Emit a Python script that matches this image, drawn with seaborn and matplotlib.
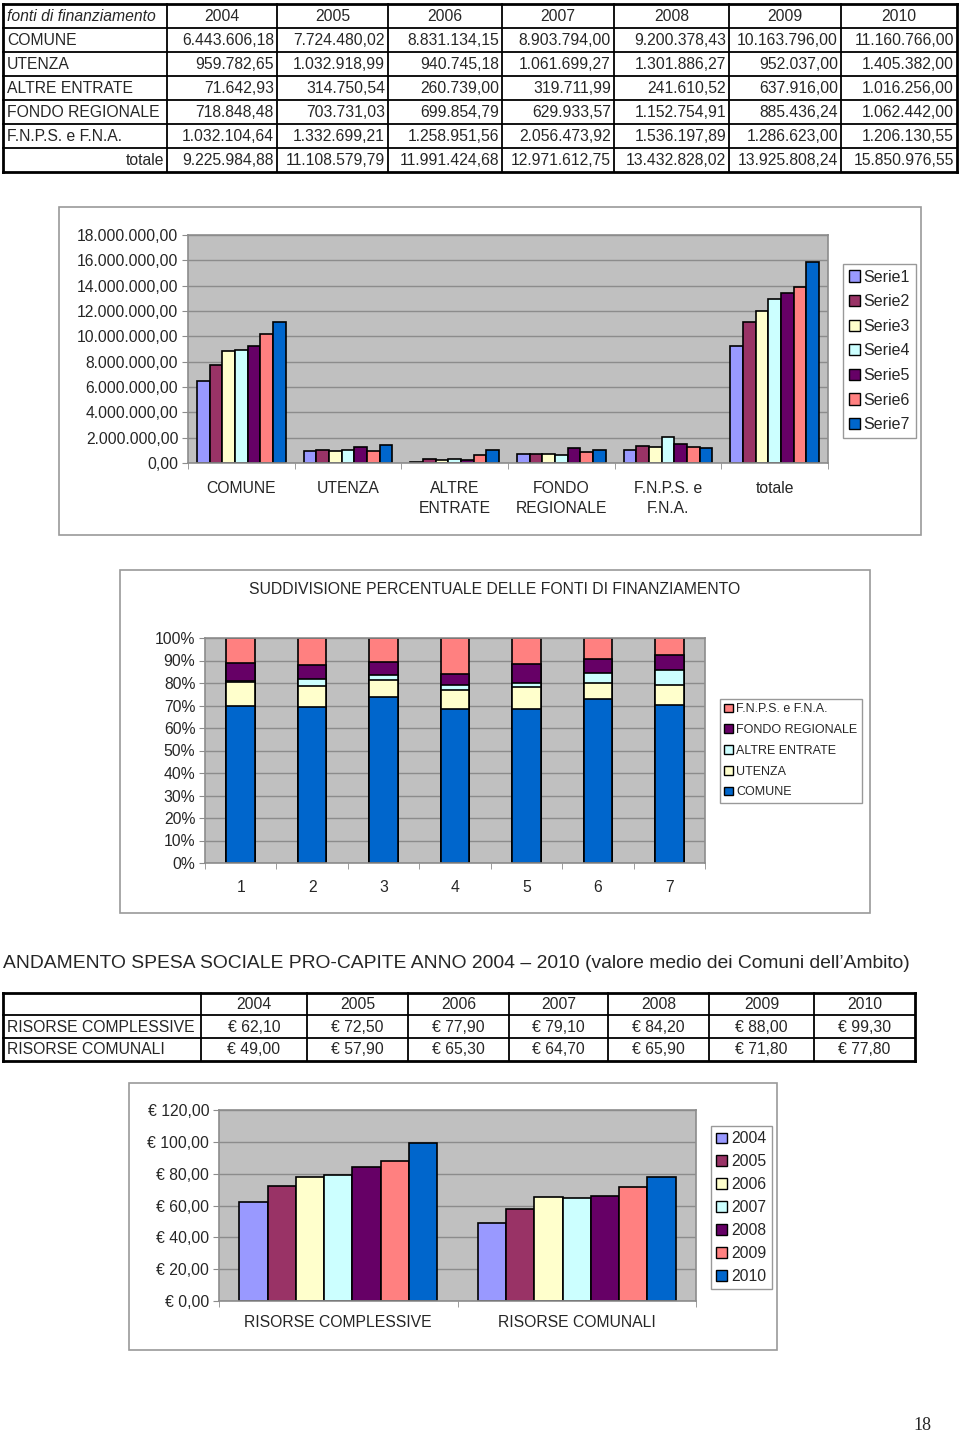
import numpy as np
import pandas as pd
import matplotlib
matplotlib.use("Agg")
import matplotlib.pyplot as plt
import seaborn as sns
from matplotlib.patches import Patch, Rectangle
from matplotlib.ticker import FuncFormatter

# ---- data ----
years = ["2004", "2005", "2006", "2007", "2008", "2009", "2010"]
sources = ["COMUNE", "UTENZA", "ALTRE ENTRATE", "FONDO REGIONALE", "F.N.P.S. e F.N.A."]
comune = [6443606.18, 7724480.02, 8831134.15, 8903794.00, 9200378.43, 10163796.00, 11160766.00]
utenza = [959782.65, 1032918.99, 940745.18, 1061699.27, 1301886.27, 952037.00, 1405382.00]
altre = [71642.93, 314750.54, 260739.00, 319711.99, 241610.52, 637916.00, 1016256.00]
fondo = [718848.48, 703731.03, 699854.79, 629933.57, 1152754.91, 885436.24, 1062442.00]
fnps = [1032104.64, 1332699.21, 1258951.56, 2056473.92, 1536197.89, 1286623.00, 1206130.55]
totale = [9225984.88, 11108579.79, 11991424.68, 12971612.75, 13432828.02, 13925808.24, 15850976.55]

chart1_labels = ["COMUNE", "UTENZA", "ALTRE\nENTRATE", "FONDO\nREGIONALE", "F.N.P.S. e\nF.N.A.", "totale"]
serie_names = ["Serie1", "Serie2", "Serie3", "Serie4", "Serie5", "Serie6", "Serie7"]
chart2_cols = ["1", "2", "3", "4", "5", "6", "7"]

procapite_groups = ["RISORSE COMPLESSIVE", "RISORSE COMUNALI"]
risorse_complessive = [62.10, 72.50, 77.90, 79.10, 84.20, 88.00, 99.30]
risorse_comunali = [49.00, 57.90, 65.30, 64.70, 65.90, 71.80, 77.80]

colors = ["#9999FF", "#993366", "#FFFFCC", "#CCFFFF", "#660066", "#FF8080", "#0066CC"]
src_colors = ["#0066CC", "#FFFFCC", "#CCFFFF", "#660066", "#FF8080"]

W, H = 960, 1434
GRAY = "#8c8c8c"


def it_num(v, dec=2):
    s = f"{v:,.{dec}f}"
    return s.replace(",", "X").replace(".", ",").replace("X", ".")


def rect(x0, y0, x1, y1):
    return [x0 / W, 1 - y1 / H, (x1 - x0) / W, (y1 - y0) / H]


def draw_table(ax, xe, ye, cells, aligns, styles, fs=11.3):
    for r in range(len(ye) - 1):
        yc = (ye[r] + ye[r + 1]) / 2 + 0.5
        for c in range(len(xe) - 1):
            al = aligns[r][c]
            if al == "left":
                x = xe[c] + 4
            elif al == "right":
                x = xe[c + 1] - 3
            else:
                x = (xe[c] + xe[c + 1]) / 2
            ax.text(x, yc, cells[r][c], ha=al, va="center", fontsize=fs,
                    style=styles[r][c])
    for i, x in enumerate(xe):
        lw = 2.0 if i in (0, len(xe) - 1) else 1.3
        ax.plot([x, x], [ye[0], ye[-1]], color="black", lw=lw, solid_capstyle="projecting")
    for i, y in enumerate(ye):
        lw = 2.0 if i in (0, len(ye) - 1) else 1.3
        ax.plot([xe[0], xe[-1]], [y, y], color="black", lw=lw, solid_capstyle="projecting")


def style_chart(ax, ymax, step, fmt, n):
    ax.set_facecolor("#C0C0C0")
    ax.set_ylim(0, ymax)
    ax.set_yticks(np.arange(0, ymax + step / 2, step))
    ax.yaxis.set_major_formatter(FuncFormatter(fmt))
    ax.grid(axis="y", color=GRAY, lw=1)
    ax.grid(axis="x", visible=False)
    ax.set_axisbelow(True)
    for s in ax.spines.values():
        s.set_visible(True)
        s.set_color(GRAY)
        s.set_linewidth(1.2)
    ax.set_xlim(-0.5, n - 0.5)
    ax.set_xticks(np.arange(-0.5, n, 1), minor=True)
    ax.tick_params(axis="x", which="major", length=0, pad=9, labelsize=11.3)
    ax.tick_params(axis="x", which="minor", bottom=True, length=4, color=GRAY, direction="out")
    ax.tick_params(axis="y", left=True, length=4, color=GRAY, direction="out", pad=3, labelsize=11.3)
    ax.set_xlabel("")
    ax.set_ylabel("")


def add_legend(ax, labels, cols, x, y, fs, ls):
    handles = [Patch(facecolor=c, edgecolor="black", lw=1) for c in cols]
    leg = ax.legend(handles=handles, labels=labels, loc="upper left",
                    bbox_to_anchor=(x / W, 1 - y / H), bbox_transform=fig.transFigure,
                    frameon=True, fancybox=False, edgecolor="#999999", framealpha=1,
                    borderaxespad=0, borderpad=0.35, handlelength=0.7, handleheight=0.7,
                    handletextpad=0.25, labelspacing=ls, fontsize=fs)
    leg.get_frame().set_linewidth(1)


sns.set_style("white")
plt.rcParams["font.family"] = ["Liberation Sans", "DejaVu Sans"]

fig = plt.figure(figsize=(9.6, 14.34), dpi=100)
page = fig.add_axes([0, 0, 1, 1])
page.set_xlim(0, W)
page.set_ylim(H, 0)
page.axis("off")

# ---- table 1 ----
rows1 = [comune, utenza, altre, fondo, fnps, totale]
names1 = sources + ["totale"]
cells1 = [["fonti di finanziamento"] + years]
aligns1 = [["left"] + ["center"] * 7]
styles1 = [["italic"] + ["normal"] * 7]
for name, vals in zip(names1, rows1):
    cells1.append([name] + [it_num(v) for v in vals])
    aligns1.append(["right" if name == "totale" else "left"] + ["right"] * 7)
    styles1.append(["normal"] * 8)
draw_table(page, [3, 167, 277, 388, 502, 614, 729, 841, 957],
           [4, 28, 52, 76, 100, 124, 148, 172], cells1, aligns1, styles1)

# ---- chart 1: grouped bars ----
page.add_patch(Rectangle((59, 207), 862, 328, fill=False, ec="#9a9a9a", lw=1.2))
ax1 = fig.add_axes(rect(188, 235, 828, 463))
df1 = pd.DataFrame({
    "fonte": np.repeat(chart1_labels, 7),
    "serie": serie_names * 6,
    "valore": np.concatenate([comune, utenza, altre, fondo, fnps, totale]),
})
sns.barplot(data=df1, x="fonte", y="valore", hue="serie", order=chart1_labels,
            hue_order=serie_names, palette=colors, saturation=1, width=0.83,
            edgecolor="black", linewidth=1.2, errorbar=None, legend=False, ax=ax1)
style_chart(ax1, 18000000, 2000000, lambda v, p: it_num(v), 6)
ax1.tick_params(axis="x", which="major", pad=13)
for t in ax1.get_xticklabels():
    t.set_linespacing(1.45)
    t.set_verticalalignment("top")
add_legend(ax1, serie_names, colors, 843, 264, 11.5, 0.6)

# ---- chart 2: percent stacked ----
page.add_patch(Rectangle((120, 570), 750, 343, fill=False, ec="#9a9a9a", lw=1.2))
page.text(495, 589, "SUDDIVISIONE PERCENTUALE DELLE FONTI DI FINANZIAMENTO",
          ha="center", va="center", fontsize=11.3)
ax2 = fig.add_axes(rect(205, 638, 705, 863))
parts = np.array([comune, utenza, altre, fondo, fnps])
cum = np.cumsum(parts, axis=0) / parts.sum(axis=0)
for i in reversed(range(len(sources))):
    sns.barplot(x=chart2_cols, y=cum[i], order=chart2_cols, color=src_colors[i],
                saturation=1, width=0.4, edgecolor="black", linewidth=1.2,
                errorbar=None, ax=ax2)
style_chart(ax2, 1.0, 0.1, lambda v, p: f"{v * 100:.0f}%", 7)
ax2.tick_params(axis="x", which="major", pad=12)
add_legend(ax2, sources[::-1], src_colors[::-1], 720, 699, 9, 0.7)

# ---- title + table 2 ----
page.text(3, 963, "ANDAMENTO SPESA SOCIALE PRO-CAPITE ANNO 2004 \u2013 2010 "
          "(valore medio dei Comuni dell\u2019Ambito)", ha="left", va="center", fontsize=13.9)
cells2 = [[""] + years,
          [procapite_groups[0]] + ["\u20ac " + it_num(v) for v in risorse_complessive],
          [procapite_groups[1]] + ["\u20ac " + it_num(v) for v in risorse_comunali]]
aligns2 = [["left"] + ["center"] * 7] * 3
styles2 = [["normal"] * 8] * 3
draw_table(page, [3, 201, 307, 408, 509, 608, 709, 814, 915],
           [993, 1015, 1038, 1061], cells2, aligns2, styles2)

# ---- chart 3: pro-capite ----
page.add_patch(Rectangle((129, 1083), 648, 267, fill=False, ec="#9a9a9a", lw=1.2))
ax3 = fig.add_axes(rect(219, 1110, 696, 1301))
df3 = pd.DataFrame({
    "gruppo": np.repeat(procapite_groups, 7),
    "anno": years * 2,
    "euro": risorse_complessive + risorse_comunali,
})
sns.barplot(data=df3, x="gruppo", y="euro", hue="anno", order=procapite_groups,
            hue_order=years, palette=colors, saturation=1, width=0.83,
            edgecolor="black", linewidth=1.2, errorbar=None, legend=False, ax=ax3)
style_chart(ax3, 120, 20, lambda v, p: "\u20ac " + it_num(v), 2)
ax3.tick_params(axis="x", which="major", pad=10)
add_legend(ax3, years, colors, 711, 1126, 11.3, 0.5)

page.text(922, 1425, "18", family=["Liberation Serif"], fontsize=13, ha="center", va="center")

fig.savefig("out.png", dpi=100)
